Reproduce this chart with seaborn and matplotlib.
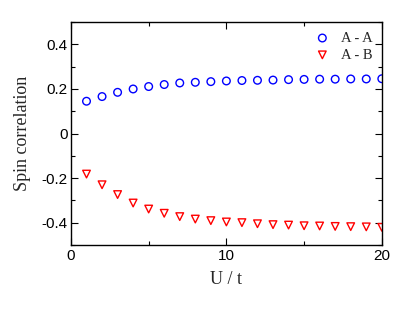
import numpy as np
import pandas as pd
from matplotlib import pyplot as plt
from matplotlib.ticker import MultipleLocator
import seaborn as sns

u = list(range(1, 21))
aa = [0.145, 0.166, 0.185, 0.200, 0.211, 0.220, 0.227, 0.230, 0.233, 0.236,
      0.238, 0.239, 0.240, 0.242, 0.243, 0.244, 0.244, 0.245, 0.245, 0.246]
ab = [-0.182, -0.230, -0.274, -0.312, -0.339, -0.358, -0.373, -0.384, -0.391, -0.397,
      -0.400, -0.405, -0.409, -0.411, -0.414, -0.415, -0.417, -0.418, -0.419, -0.421]

sns.set_style("ticks")
plt.rcParams['font.family'] = ['Liberation Sans', 'DejaVu Sans']

fig = plt.figure(figsize=(4.15, 3.12), dpi=100)
ax = fig.add_axes([0.171, 0.215, 0.749, 0.714])

sns.scatterplot(x=u, y=aa, ax=ax, marker='o', s=30, facecolor='none',
                edgecolor='blue', linewidth=1, label='A - A')
sns.scatterplot(x=u, y=ab, ax=ax, marker='v', s=30, facecolor='none',
                edgecolor='red', linewidth=1, label='A - B')

ax.set_xlim(0, 20)
ax.set_ylim(-0.5, 0.5)
ax.xaxis.set_major_locator(MultipleLocator(10))
ax.xaxis.set_minor_locator(MultipleLocator(5))
ax.yaxis.set_minor_locator(MultipleLocator(0.1))
ax.set_yticks([-0.4, -0.2, 0, 0.2, 0.4])
ax.set_yticklabels(['-0.4', '-0.2', '0', '0.2', '0.4'])
ax.tick_params(which='both', direction='in', top=True, right=True,
               labelsize=11, width=0.8, colors='black')
ax.tick_params(which='major', length=5)
ax.tick_params(which='minor', length=3)
ax.tick_params(axis='y', pad=2.5)
ax.tick_params(axis='x', pad=3)
for sp in ax.spines.values():
    sp.set_linewidth(1)
    sp.set_color('black')

ax.set_xlabel('U / t', family='Liberation Serif', fontsize=13)
ax.set_ylabel('Spin correlation', family='Liberation Serif', fontsize=13)
ax.xaxis.set_label_coords(0.5, -0.115)
ax.yaxis.set_label_coords(-0.128, 0.5)

ax.legend(loc='upper right', frameon=False, prop={'family': 'Liberation Serif', 'size': 10.5},
          handletextpad=0.5, borderaxespad=0.25, labelspacing=0.25, handlelength=1.5)

fig.savefig('out.png', dpi=100)
